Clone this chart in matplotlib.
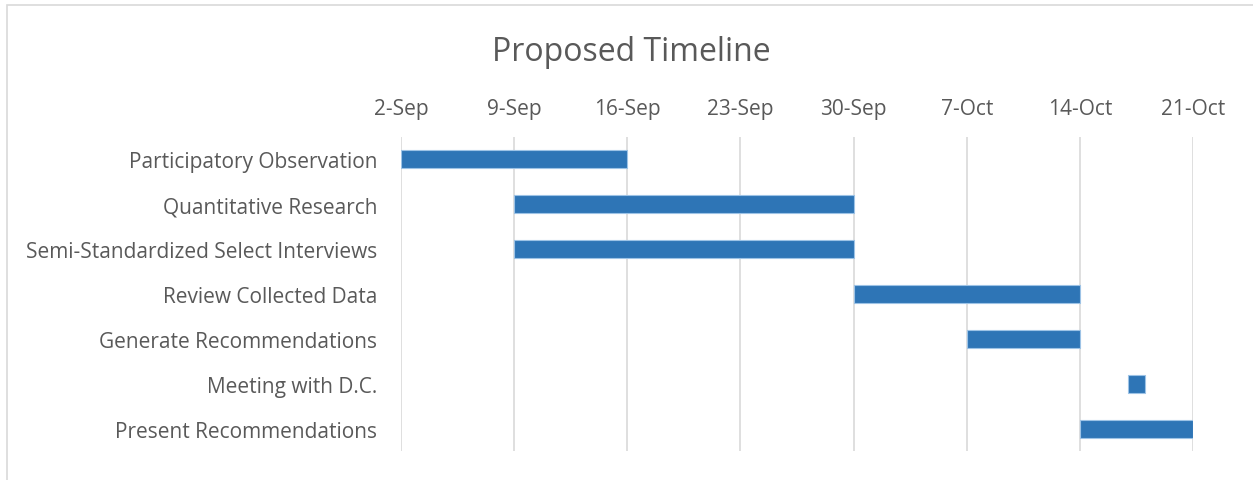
import datetime as dt
import matplotlib
matplotlib.use('Agg')
import matplotlib.pyplot as plt
import matplotlib.dates as mdates
from matplotlib.patches import Rectangle

tasks = ['Participatory Observation', 'Quantitative Research',
         'Semi-Standardized Select Interviews', 'Review Collected Data',
         'Generate Recommendations', 'Meeting with D.C.',
         'Present Recommendations']
starts = ['2018-09-02', '2018-09-09', '2018-09-09', '2018-09-30',
          '2018-10-07', '2018-10-17', '2018-10-14']
durations = [14, 21, 21, 14, 7, 1, 7]
tick_dates = ['2018-09-02', '2018-09-09', '2018-09-16', '2018-09-23',
              '2018-09-30', '2018-10-07', '2018-10-14', '2018-10-21']

plt.rcParams['font.family'] = ['Open Sans', 'DejaVu Sans']
grey = '#595959'
bar_color = '#2E75B6'

fig = plt.figure(figsize=(12.53, 4.81), dpi=100)
ax = fig.add_axes([401/1253, 29/481, 792/1253, 314/481])

start_nums = [mdates.date2num(dt.datetime.strptime(s, '%Y-%m-%d')) for s in starts]
ypos = list(range(len(tasks)))
ax.barh(ypos, durations, left=start_nums, height=0.4, color=bar_color,
        edgecolor='#9DC3E6', linewidth=0.8, zorder=3)

ticks = [mdates.date2num(dt.datetime.strptime(s, '%Y-%m-%d')) for s in tick_dates]
ax.set_xticks(ticks)
ax.set_xticklabels([f"{mdates.num2date(t).day}-{mdates.num2date(t).strftime('%b')}" for t in ticks])
ax.set_xlim(ticks[0], ticks[-1])
ax.xaxis.tick_top()
ax.set_yticks(ypos)
ax.set_yticklabels(tasks)
ax.set_ylim(len(tasks) - 0.5, -0.5)

ax.tick_params(axis='both', length=0, labelsize=15, colors=grey)
ax.tick_params(axis='x', pad=13)
ax.tick_params(axis='y', pad=17)
ax.grid(axis='x', color='#D9D9D9', linewidth=1.2, zorder=0)
for s in ax.spines.values():
    s.set_visible(False)

fig.text(0.504, 0.89, 'Proposed Timeline', ha='center', va='center',
         fontsize=23, color=grey)

fig.patches.append(Rectangle((7/1253, -0.05), 1.1, (481-6)/481 + 0.05,
                             transform=fig.transFigure, fill=False,
                             edgecolor='#D9D9D9', linewidth=1.2))

fig.savefig('out.png', dpi=100)
